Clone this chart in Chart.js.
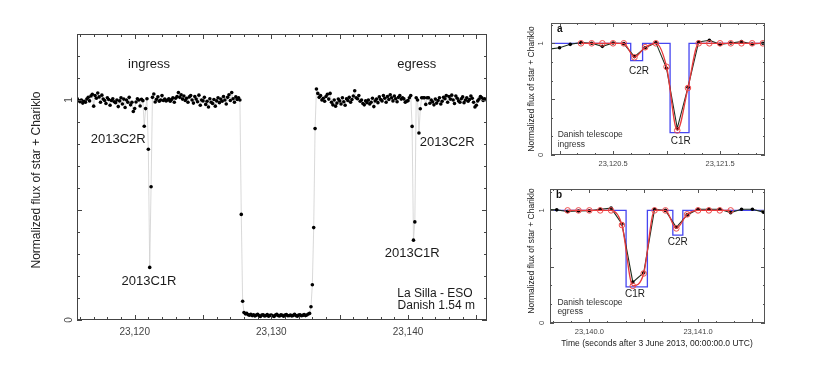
<!DOCTYPE html>
<html>
<head>
<meta charset="utf-8">
<title>Chariklo occultation light curve</title>
<script src="https://cdn.jsdelivr.net/npm/chart.js@4.4.0/dist/chart.umd.min.js"></script>
<style>
  html, body { margin: 0; padding: 0; background: #fff; }
  #wrap { position: relative; width: 821px; height: 374px; overflow: hidden; }
  canvas { position: absolute; }
  #main { left: 0; top: 0; }
  #panelA { left: 500px; top: 0; }
  #panelB { left: 500px; top: 175px; }
</style>
</head>
<body>
<div id="wrap">
  <canvas id="main" width="500" height="374"></canvas>
  <canvas id="panelA" width="321" height="175"></canvas>
  <canvas id="panelB" width="321" height="199"></canvas>
</div>
<script>
// Danish 1.54 m light curve, one point every 0.1 s
const startTime = 23115.8;
const cadence = 0.1;

const preIngress = [1.005, 0.998, 0.992, 1.0, 0.986, 0.994, 0.99, 1.004, 1.012, 0.996,
  1.018, 1.026, 0.972, 1.02, 1.008, 1.032, 1.014, 0.99, 1.022, 1.004,
  0.998, 0.984, 1.01, 1.002, 0.976, 0.998, 1.006, 0.992, 0.988, 1.0,
  0.97, 0.996, 1.01, 0.982, 1.004, 0.966, 1.0, 0.99, 1.012, 0.978, 0.99];
// 23119.9 .. 23121.9 (rings at ingress, panel a)
const ingressWindow = [0.948, 0.961, 0.991, 1.006, 1.0, 0.973, 1.003, 0.997, 0.881, 0.961,
  1.006, 0.776, 0.239, 0.606, 1.012, 1.027, 0.991, 1.003, 1.015, 0.994, 1.0];
const midBaseline = [1.02, 0.998, 1.004, 0.996, 1.0, 1.006, 0.994, 1.002, 1.01, 0.99,
  1.008, 1.016, 1.034, 1.012, 1.024, 1.004, 1.018, 0.998, 1.008, 0.99,
  1.014, 1.02, 1.0, 0.986, 1.016, 1.004, 0.992, 1.022, 0.976, 1.0,
  0.996, 1.012, 0.98, 0.994, 0.968, 1.006, 0.99, 0.984, 1.002, 0.972,
  0.996, 1.01, 0.988, 1.004, 0.994, 1.016, 1.0, 0.982, 1.012, 1.024,
  0.998, 1.034, 1.006, 0.99, 1.014, 1.002, 1.01, 1.0];
const bodyIngress = [0.48, 0.085];
const bodyShadow = [0.034, 0.028, 0.03, 0.024, 0.022, 0.026, 0.02, 0.024, 0.018, 0.022,
  0.026, 0.02, 0.016, 0.022, 0.024, 0.018, 0.02, 0.025, 0.017, 0.021,
  0.023, 0.019, 0.016, 0.022, 0.026, 0.02, 0.018, 0.024, 0.021, 0.017,
  0.022, 0.025, 0.019, 0.02, 0.023, 0.018, 0.021, 0.026, 0.02, 0.017,
  0.022, 0.024, 0.019, 0.021, 0.025, 0.02, 0.023, 0.027, 0.03];
const bodyEgress = [0.06, 0.16, 0.42, 0.87, 1.05];
const postBaseline = [1.03, 1.012, 1.02, 1.0, 1.008, 0.994, 1.016, 1.026, 1.004, 1.03,
  0.99, 0.978, 1.0, 0.972, 0.986, 1.004, 0.996, 0.982, 1.01, 0.992,
  0.976, 1.006, 0.998, 1.012, 0.99, 1.002, 1.018, 1.042, 1.01, 1.006,
  1.02, 0.994, 1.0, 0.984, 0.978, 0.996, 0.988, 1.0, 0.982, 0.99,
  1.008, 0.97, 0.996, 1.004, 0.988, 1.014, 1.002, 0.996, 1.02, 1.008,
  0.99, 1.016, 1.002, 1.024, 1.01, 0.996, 1.018, 1.006, 0.992, 1.012,
  1.02, 1.004, 1.01];
// 23139.7 .. 23141.6 (rings at egress, panel b)
const egressWindow = [1.005, 0.99, 0.994, 0.997, 1.01, 1.02, 0.88, 0.363, 0.446, 1.01,
  1.0, 0.85, 0.96, 1.01, 1.01, 1.01, 0.98, 1.01, 1.01, 0.985];
const tailBaseline = [1.0, 0.992, 0.978, 1.004, 0.986, 0.998, 1.01, 0.982, 0.994, 1.012,
  1.006, 1.02, 0.99, 1.016, 1.004, 1.022, 1.0, 0.984, 1.018, 1.008,
  0.996, 0.99, 1.006, 1.014, 0.988, 1.0, 1.01, 0.994, 1.002, 1.018,
  1.008, 0.99, 0.968, 0.976, 0.996, 1.004, 1.016, 1.01, 0.998, 1.006,
  1.002, 0.998];

// ring model sampled at the same cadence (red)
const modelAStart = 23120.2;
const modelA = [1.0, 1.0, 1.0, 1.0, 1.0, 0.875, 0.965, 1.0, 0.79, 0.22,
  0.6, 1.0, 1.0, 1.0, 1.0, 1.0, 1.0, 1.0];
const modelBStart = 23139.8;
const modelB = [1.0, 1.0, 1.0, 1.0, 1.0, 0.87, 0.33, 0.44, 1.0, 1.0,
  0.84, 0.965, 1.0, 1.0, 1.0, 1.0];

// square-well ring profiles (blue)
const ringAStart = [23120.665, 23121.033];
const ringAEnd = [23120.776, 23121.21];
const ringALevel = [0.845, 0.2];
const ringBStart = [23140.338, 23140.768];
const ringBEnd = [23140.534, 23140.86];
const ringBLevel = [0.32, 0.78];

const mainXLabels = [23120, 23130, 23140];
const panelAXLabels = [23120.5, 23121.5];
const panelBXLabels = [23140.0, 23141.0];
const yLabels = [0, 1];

const flux = [].concat(preIngress, ingressWindow, midBaseline, bodyIngress, bodyShadow,
  bodyEgress, postBaseline, egressWindow, tailBaseline);
const observed = flux.map((f, i) => ({ x: +(startTime + i * cadence).toFixed(2), y: f }));

function sampled(t0, vals) {
  return vals.map((v, i) => ({ x: +(t0 + i * cadence).toFixed(2), y: v }));
}

function wells(xmin, xmax, starts, ends, levels) {
  const pts = [{ x: xmin, y: 1 }];
  starts.forEach((s, i) => {
    pts.push({ x: s, y: 1 }, { x: s, y: levels[i] }, { x: ends[i], y: levels[i] }, { x: ends[i], y: 1 });
  });
  pts.push({ x: xmax, y: 1 });
  return pts;
}

const FONT = '"Liberation Sans", Arial, sans-serif';

// frame, inward ticks, tick labels and text
const decor = {
  id: 'decor',
  afterDraw(chart, args, o) {
    const { ctx, chartArea: a, scales: { x, y } } = chart;
    ctx.save();
    ctx.strokeStyle = o.frameColor;
    ctx.lineWidth = 1;
    ctx.strokeRect(Math.round(a.left) + 0.5, Math.round(a.top) + 0.5,
      Math.round(a.right - a.left) - 1, Math.round(a.bottom - a.top) - 1);

    ctx.beginPath();
    const i0 = Math.ceil(x.min / o.xStep - 1e-6), i1 = Math.floor(x.max / o.xStep + 1e-6);
    for (let i = i0; i <= i1; i++) {
      const px = Math.round(x.getPixelForValue(i * o.xStep)) + 0.5;
      const len = i % o.xEvery === 0 ? o.major : o.minor;
      ctx.moveTo(px, a.bottom); ctx.lineTo(px, a.bottom - len);
      ctx.moveTo(px, a.top); ctx.lineTo(px, a.top + len);
    }
    const j0 = Math.ceil(y.min / o.yStep - 1e-6), j1 = Math.floor(y.max / o.yStep + 1e-6);
    for (let j = j0; j <= j1; j++) {
      const py = Math.round(y.getPixelForValue(j * o.yStep)) + 0.5;
      const len = j % o.yEvery === 0 ? o.major : o.minor;
      ctx.moveTo(a.left, py); ctx.lineTo(a.left + len, py);
      ctx.moveTo(a.right, py); ctx.lineTo(a.right - len, py);
    }
    ctx.stroke();

    ctx.fillStyle = '#444';
    ctx.font = o.tickFont + 'px ' + FONT;
    ctx.textAlign = 'center';
    ctx.textBaseline = 'middle';
    o.xLabels.forEach(v => {
      const txt = v.toLocaleString('en-US', { minimumFractionDigits: o.xDecimals, maximumFractionDigits: o.xDecimals });
      ctx.fillText(txt, x.getPixelForValue(v), a.bottom + o.xLabelGap);
    });
    o.yLabels.forEach(v => {
      ctx.save();
      ctx.translate(a.left - o.yLabelGap, y.getPixelForValue(v));
      ctx.rotate(-Math.PI / 2);
      ctx.fillText(String(v), 0, 0);
      ctx.restore();
    });

    ctx.fillStyle = '#222';
    ctx.font = o.titleFont + 'px ' + FONT;
    ctx.save();
    ctx.translate(o.titleX, o.titleY);
    ctx.rotate(-Math.PI / 2);
    ctx.fillText('Normalized flux of star + Chariklo', 0, 0);
    ctx.restore();
    if (o.xTitle) ctx.fillText(o.xTitle, o.xTitleX, o.xTitleY);

    if (o.letter) {
      ctx.font = 'bold 10px "Liberation Sans", Arial, sans-serif';
      ctx.textAlign = 'left';
      ctx.fillStyle = '#111';
      ctx.fillText(o.letter, a.left + 6, a.top + 6);
    }

    o.notes.forEach(n => {
      ctx.font = n.size + 'px ' + FONT;
      ctx.fillStyle = n.color || '#1a1a1a';
      ctx.textAlign = n.align || 'center';
      ctx.fillText(n.text, x.getPixelForValue(n.t), y.getPixelForValue(n.f));
    });
    ctx.restore();
  }
};

function makeChart(id, datasets, xmin, xmax, ymax, padding, decorOpts) {
  return new Chart(document.getElementById(id), {
    type: 'scatter',
    data: { datasets },
    options: {
      responsive: false,
      animation: false,
      layout: { padding },
      scales: {
        x: { type: 'linear', display: false, min: xmin, max: xmax },
        y: { type: 'linear', display: false, min: 0, max: ymax }
      },
      plugins: { legend: { display: false }, tooltip: { enabled: false }, decor: decorOpts }
    },
    plugins: [decor]
  });
}

makeChart('main', [{
  data: observed,
  showLine: true,
  borderColor: '#cfcfcf',
  borderWidth: 0.8,
  pointRadius: 1.8,
  pointBorderWidth: 0,
  pointBackgroundColor: '#000'
}], 23115.78, 23145.78, 1.3, { left: 77, right: 13, top: 34, bottom: 54 }, {
  frameColor: '#444', xStep: 1, xEvery: 5, yStep: 0.1, yEvery: 5, minor: 3, major: 5,
  tickFont: 10, xDecimals: 0, xLabels: mainXLabels, xLabelGap: 12, yLabels: yLabels, yLabelGap: 8,
  titleFont: 12, titleX: 37, titleY: 180,
  notes: [
    { text: 'ingress', t: 23121.05, f: 1.162, size: 13 },
    { text: 'egress', t: 23140.64, f: 1.162, size: 13 },
    { text: '2013C2R', t: 23118.8, f: 0.821, size: 13 },
    { text: '2013C1R', t: 23121.05, f: 0.174, size: 13 },
    { text: '2013C2R', t: 23142.87, f: 0.808, size: 13 },
    { text: '2013C1R', t: 23140.31, f: 0.303, size: 13 },
    { text: 'La Silla - ESO', t: 23144.73, f: 0.121, size: 12, align: 'right' },
    { text: 'Danish 1.54 m', t: 23144.9, f: 0.064, size: 12, align: 'right' }
  ]
});

function panelSets(model, t0, profile) {
  return [{
    data: sampled(t0, model),
    showLine: true,
    borderColor: '#e8393c',
    borderWidth: 1.3,
    cubicInterpolationMode: 'monotone',
    pointRadius: 2.8,
    pointBorderWidth: 1,
    pointBorderColor: '#ee4a4a',
    pointBackgroundColor: 'rgba(0,0,0,0)'
  }, {
    data: observed,
    showLine: true,
    borderColor: '#1f2f1f',
    borderWidth: 1.1,
    pointRadius: 1.8,
    pointBorderWidth: 0,
    pointBackgroundColor: '#000'
  }, {
    data: profile,
    showLine: true,
    borderColor: '#4646f0',
    borderWidth: 1.3,
    pointRadius: 0
  }];
}

makeChart('panelA',
  panelSets(modelA, modelAStart, wells(23119.92, 23121.92, ringAStart, ringAEnd, ringALevel)),
  23119.92, 23121.92, 1.182, { left: 51, right: 56, top: 23, bottom: 20 }, {
    frameColor: '#555', xStep: 1 / 6, xEvery: 3, yStep: 1 / 6, yEvery: 3, minor: 2, major: 4,
    tickFont: 7.5, xDecimals: 1, xLabels: panelAXLabels, xLabelGap: 8.5, yLabels: yLabels, yLabelGap: 10,
    titleFont: 8.5, titleX: 32, titleY: 89, letter: 'a',
    notes: [
      { text: 'C2R', t: 23120.742, f: 0.752, size: 10 },
      { text: 'C1R', t: 23121.133, f: 0.119, size: 10 },
      { text: 'Danish telescope', t: 23119.982, f: 0.179, size: 8.5, align: 'left', color: '#333' },
      { text: 'ingress', t: 23119.982, f: 0.096, size: 8.5, align: 'left', color: '#333' }
    ]
  });

makeChart('panelB',
  panelSets(modelB, modelBStart, wells(23139.638, 23141.616, ringBStart, ringBEnd, ringBLevel)),
  23139.638, 23141.616, 1.19, { left: 50, right: 56, top: 14, bottom: 51 }, {
    frameColor: '#555', xStep: 1 / 6, xEvery: 3, yStep: 1 / 6, yEvery: 3, minor: 2, major: 4,
    tickFont: 7.5, xDecimals: 1, xLabels: panelBXLabels, xLabelGap: 8.5, yLabels: yLabels, yLabelGap: 8,
    titleFont: 8.5, titleX: 32, titleY: 76, letter: 'b',
    xTitle: 'Time (seconds after 3 June 2013, 00:00:00.0 UTC)', xTitleX: 157, xTitleY: 169,
    notes: [
      { text: 'C2R', t: 23140.813, f: 0.714, size: 10 },
      { text: 'C1R', t: 23140.42, f: 0.256, size: 10 },
      { text: 'Danish telescope', t: 23139.706, f: 0.179, size: 8.5, align: 'left', color: '#333' },
      { text: 'egress', t: 23139.706, f: 0.098, size: 8.5, align: 'left', color: '#333' }
    ]
  });
</script>
</body>
</html>
